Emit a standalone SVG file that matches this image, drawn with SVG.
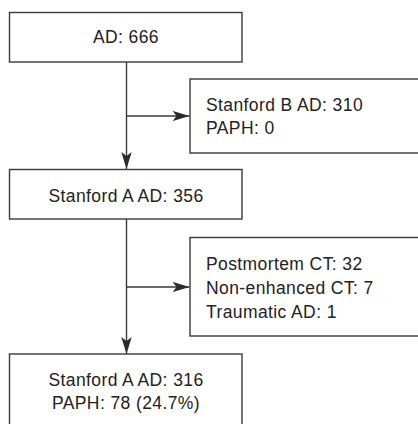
<svg xmlns="http://www.w3.org/2000/svg" width="418" height="424" viewBox="0 0 418 424">
<defs>
<marker id="arr" markerUnits="userSpaceOnUse" markerWidth="18" markerHeight="12" viewBox="0 0 18 12" refX="17" refY="6" orient="auto">
<path d="M0,0.8 L17,6 L0,11.2 L4,6 Z" fill="#2b2b2b"/>
</marker>
<style>
.box{fill:#fff;stroke:#3a3a3a;stroke-width:1.4}
.t{font-family:"Liberation Sans",Arial,sans-serif;font-size:17.5px;letter-spacing:0.4px;fill:#222}
.c{text-anchor:middle}
.ln{fill:none;stroke:#3a3a3a;stroke-width:1.4}
</style>
</defs>
<rect width="418" height="424" fill="#fff"/>
<g id="connectors">
<line class="ln" x1="126.5" y1="62" x2="126.5" y2="169" marker-end="url(#arr)"/>
<line class="ln" x1="126.5" y1="116" x2="189.5" y2="116" marker-end="url(#arr)"/>
<line class="ln" x1="126.5" y1="219" x2="126.5" y2="354" marker-end="url(#arr)"/>
<line class="ln" x1="126.5" y1="287" x2="189.5" y2="287" marker-end="url(#arr)"/>
</g>
<g id="n1">
<rect class="box" x="9.5" y="12.5" width="232.5" height="49.5"/>
<text class="t c" x="126" y="43">AD: 666</text>
</g>
<g id="n2">
<rect class="box" x="190" y="79" width="240" height="74"/>
<text class="t" x="206" y="111">Stanford B AD: 310</text>
<text class="t" x="206" y="134">PAPH: 0</text>
</g>
<g id="n3">
<rect class="box" x="9.5" y="169.5" width="232.5" height="49.5"/>
<text class="t c" x="126" y="202">Stanford A AD: 356</text>
</g>
<g id="n4">
<rect class="box" x="190" y="237.5" width="240" height="98.5"/>
<text class="t" x="206" y="270">Postmortem CT: 32</text>
<text class="t" x="206" y="294">Non-enhanced CT: 7</text>
<text class="t" x="206" y="318">Traumatic AD: 1</text>
</g>
<g id="n5">
<rect class="box" x="9.5" y="354" width="232.5" height="80"/>
<text class="t c" x="126" y="386">Stanford A AD: 316</text>
<text class="t c" x="126" y="409">PAPH: 78 (24.7%)</text>
</g>
</svg>
